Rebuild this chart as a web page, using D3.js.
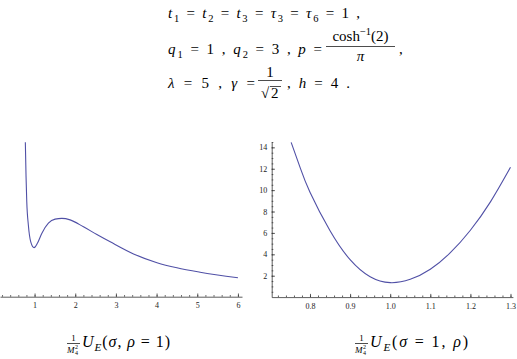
<!DOCTYPE html>
<html>
<head>
<meta charset="utf-8">
<script src="https://cdn.jsdelivr.net/npm/d3@7"></script>
<style>
  body { margin: 0; background: #fff; }
  svg { display: block; }
  text { white-space: pre; font-family: 'Liberation Serif', 'DejaVu Serif', serif; }
</style>
</head>
<body>
<div class="chart"></div>
<script>
// values (left: rho = 1, right: sigma = 1)
const sigma = [0.773, 0.79, 0.808, 0.847, 0.906, 0.988, 1.069, 1.177, 1.34, 1.505, 1.67, 1.874, 2.202, 2.532, 2.86, 3.433, 4.01, 4.5, 5.07, 6.0];
const uSigma = [4.22, 3.3, 2.6, 1.96, 1.5, 1.34, 1.46, 1.73, 2.01, 2.12, 2.14, 2.1, 1.91, 1.7, 1.5, 1.17, 0.93, 0.79, 0.67, 0.52];

const rho = [0.753, 0.775, 0.8, 0.85, 0.9, 0.95, 1.0, 1.05, 1.1, 1.15, 1.2, 1.25, 1.3];
const uRho = [14.47, 12.15, 9.8, 6.2, 3.5, 1.9, 1.35, 1.66, 2.6, 4.15, 6.25, 8.9, 12.13];

const leftXTicks = [1, 2, 3, 4, 5, 6];
const rightXTicks = [0.8, 0.9, 1.0, 1.1, 1.2, 1.3];
const rightYTicks = [2, 4, 6, 8, 10, 12, 14];

const W = 517, H = 359;
const font = "'Liberation Serif', 'DejaVu Serif', serif";
const curveColor = '#5050a6';

const svg = d3.select('.chart').append('svg')
  .attr('width', W).attr('height', H)
  .style('background', '#fff');

// ---------- helpers ----------
// parts: [string, kind]; kind is 'r' roman, 'i' italic, 'sub', 'isub', 'sup'
function mathText(parent, x, y, parts, size, len, anchor) {
  const t = parent.append('text')
    .attr('x', x).attr('y', y)
    .style('font-family', font)
    .attr('font-size', size)
    .attr('fill', '#000')
    .attr('text-anchor', anchor || 'start');
  let off = 0;
  parts.forEach(([s, k]) => {
    const isSub = k === 'sub' || k === 'isub';
    const small = isSub || k === 'sup';
    const target = isSub ? size * 0.28 : k === 'sup' ? -size * 0.42 : 0;
    t.append('tspan')
      .attr('dy', target - off)
      .attr('font-size', small ? size * 0.7 : size)
      .style('font-style', k === 'i' || k === 'isub' ? 'italic' : 'normal')
      .text(s);
    off = target;
  });
  if (len) t.attr('textLength', len).attr('lengthAdjust', 'spacing');
  return t;
}

function fracBar(parent, x1, x2, y) {
  parent.append('line')
    .attr('x1', x1).attr('x2', x2).attr('y1', y).attr('y2', y)
    .attr('stroke', '#000').attr('stroke-width', 0.7);
}

// ---------- parameter block ----------
const params = svg.append('g');
mathText(params, 168, 18, [
  ['t', 'i'], ['1', 'sub'], [' = ', 'r'], ['t', 'i'], ['2', 'sub'], [' = ', 'r'],
  ['t', 'i'], ['3', 'sub'], [' = ', 'r'], ['τ', 'i'], ['3', 'sub'], [' = ', 'r'],
  ['τ', 'i'], ['6', 'sub'], [' = 1 ,', 'r']
], 15, 192);

mathText(params, 168, 54, [
  ['q', 'i'], ['1', 'sub'], [' = 1 , ', 'r'], ['q', 'i'], ['2', 'sub'], [' = 3 , ', 'r'],
  ['p', 'i'], [' =', 'r']
], 15, 154);
mathText(params, 360.5, 41, [['cosh', 'r'], ['−1', 'sup'], ['(2)', 'r']], 15, null, 'middle');
fracBar(params, 326, 395, 46.5);
mathText(params, 360.5, 61, [['π', 'i']], 15, null, 'middle');
mathText(params, 399, 54, [[',', 'r']], 15);

mathText(params, 168, 88, [
  ['λ', 'i'], [' = 5 , ', 'r'], ['γ', 'i'], [' =', 'r']
], 15, 87);
mathText(params, 270, 77, [['1', 'r']], 15, null, 'middle');
fracBar(params, 258, 282, 80.5);
mathText(params, 261, 98, [['√', 'r']], 15);
fracBar(params, 270, 281, 86.5);
mathText(params, 271, 98, [['2', 'r']], 15);
mathText(params, 287, 88, [
  [', ', 'r'], ['h', 'i'], [' = 4 .', 'r']
], 15, 63);

// ---------- left panel: U_E(sigma, rho = 1) ----------
const xL = d3.scaleLinear().domain([0.15, 6.1]).range([0, 242]);
const yL = d3.scaleLinear().domain([0, 4.22]).range([296.7, 142.3]);

const left = svg.append('g');

left.append('g')
  .attr('transform', `translate(0,${yL(0)})`)
  .call(d3.axisBottom(xL).tickValues(d3.range(0.2, 6.01, 0.2)).tickSize(-1.6).tickFormat(''))
  .call(g => g.select('.domain').remove());

left.append('g')
  .attr('transform', `translate(0,${yL(0)})`)
  .call(d3.axisBottom(xL).tickValues(leftXTicks).tickSize(-3.2).tickSizeOuter(0)
    .tickPadding(6).tickFormat(d3.format('d')));

left.append('path')
  .datum(sigma.map((s, i) => [s, uSigma[i]]))
  .attr('fill', 'none')
  .attr('stroke', curveColor)
  .attr('stroke-width', 1.1)
  .attr('d', d3.line().x(d => xL(d[0])).y(d => yL(d[1])).curve(d3.curveMonotoneX));

// ---------- right panel: U_E(sigma = 1, rho) ----------
const xR = d3.scaleLinear().domain([0.7045, 1.306]).range([271.7, 512.9]);
const yR = d3.scaleLinear().domain([0, 14.5]).range([297.1, 142]);

const right = svg.append('g');

right.append('g')
  .attr('transform', `translate(0,${yR(0)})`)
  .call(d3.axisBottom(xR).tickValues(d3.range(0.72, 1.301, 0.02)).tickSize(-1.6).tickFormat(''))
  .call(g => g.select('.domain').remove());

right.append('g')
  .attr('transform', `translate(0,${yR(0)})`)
  .call(d3.axisBottom(xR).tickValues(rightXTicks).tickSize(-3.2).tickSizeOuter(0)
    .tickPadding(6).tickFormat(d3.format('.1f')));

right.append('g')
  .attr('transform', `translate(${xR(0.7045)},0)`)
  .call(d3.axisLeft(yR).tickValues(d3.range(0.5, 14.51, 0.5)).tickSize(-1.6).tickFormat(''))
  .call(g => g.select('.domain').remove());

right.append('g')
  .attr('transform', `translate(${xR(0.7045)},0)`)
  .call(d3.axisLeft(yR).tickValues(rightYTicks).tickSize(-3.2).tickSizeOuter(0)
    .tickPadding(4.5).tickFormat(d3.format('d')));

right.append('path')
  .datum(rho.map((r, i) => [r, uRho[i]]))
  .attr('fill', 'none')
  .attr('stroke', curveColor)
  .attr('stroke-width', 1.1)
  .attr('d', d3.line().x(d => xR(d[0])).y(d => yR(d[1])).curve(d3.curveNatural));

// axis styling, Mathematica-like
svg.selectAll('.domain, .tick line')
  .attr('stroke', '#333')
  .attr('stroke-width', 0.8);
svg.selectAll('.tick text')
  .style('font-family', font)
  .attr('font-size', 8)
  .attr('fill', '#222');

// ---------- captions ----------
function caption(x, parts, len) {
  const g = svg.append('g');
  mathText(g, x + 6.5, 341, [['1', 'r']], 9, null, 'middle');
  fracBar(g, x, x + 13, 343.5);
  mathText(g, x, 352.5, [['M', 'i']], 9);
  mathText(g, x + 8, 349, [['2', 'r']], 6);
  mathText(g, x + 8, 355, [['4', 'r']], 6);
  mathText(g, x + 15, 347, parts, 16, len);
}
caption(67, [['U', 'i'], ['E', 'isub'], ['(', 'r'], ['σ', 'i'], [', ', 'r'], ['ρ', 'i'], [' = 1)', 'r']], 88);
caption(355, [['U', 'i'], ['E', 'isub'], ['(', 'r'], ['σ', 'i'], [' = 1, ', 'r'], ['ρ', 'i'], [')', 'r']], 98);
</script>
</body>
</html>
